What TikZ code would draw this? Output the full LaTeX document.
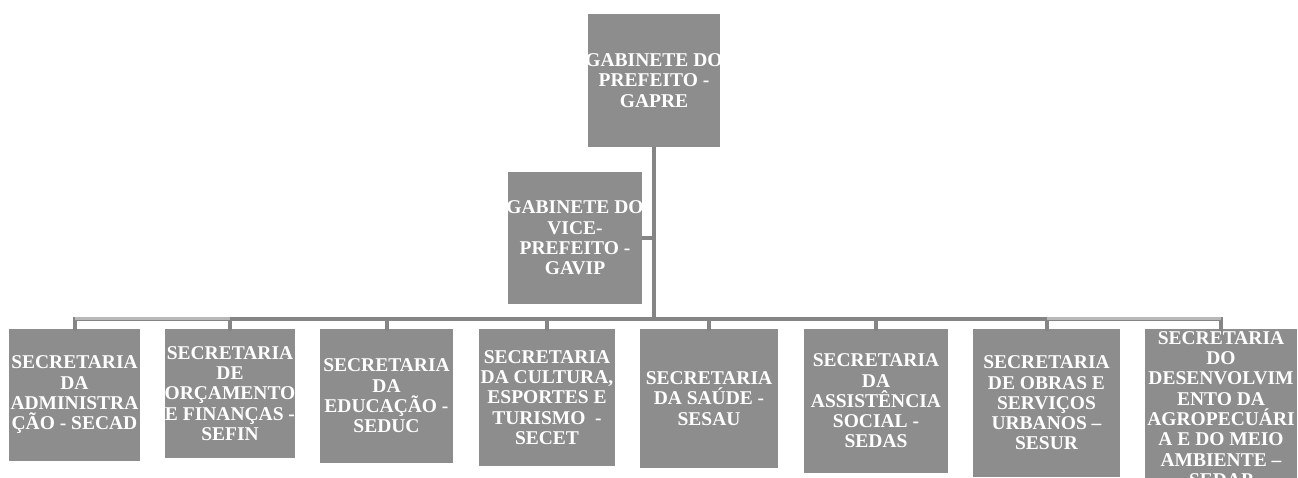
\documentclass[tikz,border=0pt]{standalone}
\usepackage{fontspec}
\setmainfont{Liberation Serif}
\definecolor{boxfill}{HTML}{8D8D8D}
\definecolor{linedark}{HTML}{858585}
\definecolor{lineedge}{HTML}{7A7A7A}
\definecolor{linelight}{HTML}{B8B8B8}
\tikzset{
  unit/.style={fill=boxfill, draw=none, inner sep=0pt, align=center,
    text=white, font=\bfseries\fontsize{19.5}{20.3}\selectfont},
  conn/.style={draw=linedark, line width=4pt},
  connlight/.style={draw=linelight, line width=3pt},
}
\newcommand{\wide}[1]{\makebox[118pt]{#1}}
\begin{document}
\begin{tikzpicture}[x=1pt,y=-1pt]
\useasboundingbox (0,0) rectangle (1298,478);
\begin{scope}
\clip (0,0) rectangle (1298,478);

% connector level
\coordinate (bar) at (0,319);

% top level
\node[unit, minimum width=132pt, minimum height=133pt] (gapre) at (654,80.5)
  {\wide{GABINETE DO}\\PREFEITO -\\GAPRE};
\node[unit, minimum width=134pt, minimum height=132pt] (gavip) at (575,238)
  {\wide{GABINETE DO}\\VICE-\\PREFEITO -\\GAVIP};

% secretariats
\node[unit, minimum width=131pt, minimum height=132pt] (secad) at (74.5,395)
  {SECRETARIA\\DA\\ADMINISTRA\\ÇÃO - SECAD};
\node[unit, minimum width=130pt, minimum height=129pt] (sefin) at (230,393.5)
  {SECRETARIA\\DE\\ORÇAMENTO\\E FINANÇAS -\\SEFIN};
\node[unit, minimum width=133pt, minimum height=134pt] (seduc) at (386.5,396)
  {SECRETARIA\\DA\\EDUCAÇÃO -\\SEDUC};
\node[unit, minimum width=136pt, minimum height=137pt] (secet) at (547,397.5)
  {SECRETARIA\\DA CULTURA,\\ESPORTES E\\TURISMO~ -\\SECET};
\node[unit, minimum width=138pt, minimum height=139pt] (sesau) at (709,398.5)
  {SECRETARIA\\DA SAÚDE -\\SESAU};
\node[unit, minimum width=144pt, minimum height=144pt] (sedas) at (876,401)
  {SECRETARIA\\DA\\ASSISTÊNCIA\\SOCIAL -\\SEDAS};
\node[unit, minimum width=147pt, minimum height=148pt] (sesur) at (1046.5,403)
  {SECRETARIA\\DE OBRAS E\\SERVIÇOS\\URBANOS –\\SESUR};
\node[unit, minimum width=152pt, minimum height=160pt] (sedap) at (1221,409)
  {SECRETARIA\\DO\\DESENVOLVIM\\ENTO DA\\AGROPECUÁRI\\A E DO MEIO\\AMBIENTE –\\SEDAP};

% trunk from the mayor's office down to the bar
\draw[conn] (gapre.south) -- (gapre.south |- bar);
% vice-mayor's office hooks onto the trunk
\draw[conn] (gavip.east) -- (gavip.east -| gapre.south);

% horizontal bar
\draw[conn] ([xshift=-2pt]secad.north |- bar) -- ([xshift=2pt]sedap.north |- bar);
\draw[connlight] ([yshift=0.6pt]secad.north |- bar) -- ([yshift=0.6pt]sefin.north |- bar);
\draw[connlight] ([yshift=0.6pt]sesur.north |- bar) -- ([yshift=0.6pt]sedap.north |- bar);

% drops to each secretariat
\foreach \n in {secad,sefin,seduc,secet,sesau,sedas,sesur,sedap}
  \draw[conn] ([yshift=-2pt]\n.north |- bar) -- ([yshift=-2pt]\n.north);
\end{scope}
\end{tikzpicture}
\end{document}
